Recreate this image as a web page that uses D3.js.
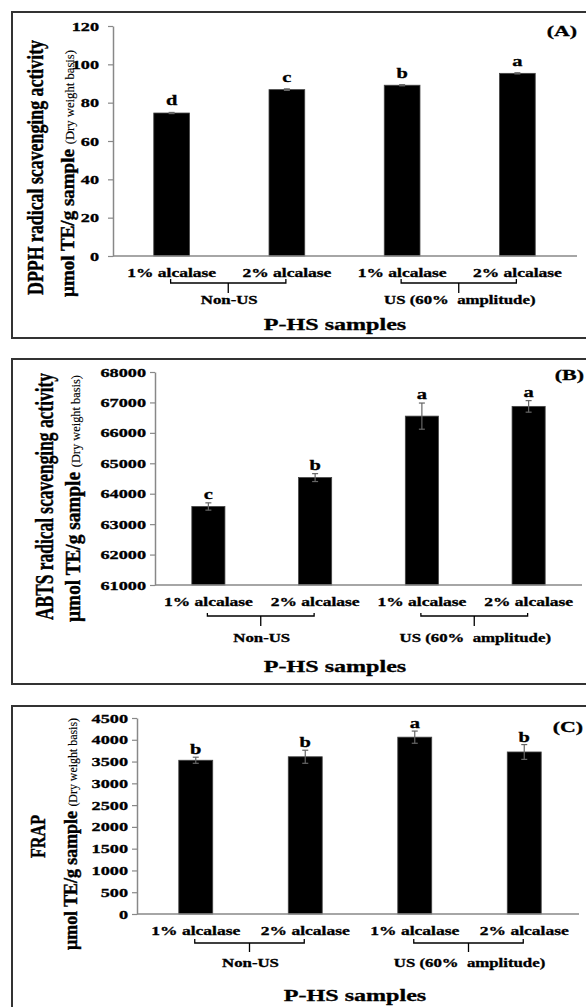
<!DOCTYPE html>
<html>
    <head>
        <script src="https://d3js.org/d3.v7.min.js"></script>
        <style type="text/css">
            html, body {
                margin: 0;
                padding: 0;
                background: #fff;
            }
            svg text {
                font-family: "Liberation Serif", "Times New Roman", serif;
                font-weight: bold;
                fill: #000;
                stroke: #000;
                stroke-width: 0.3px;
                white-space: pre;
            }
        </style>
    </head>
    <body>
        <div id="chart"></div>
        <script>
            // sample names on the x axis
            var categories = ["1% alcalase", "2% alcalase", "1% alcalase", "2% alcalase"];
            var groupLabels = ["Non-US", "US (60%  amplitude)"];
            var groupMembers = [[0, 1], [2, 3]];

            // (A) DPPH
            var dpphValues = [74.6, 86.8, 89.1, 95.3];
            var dpphErrors = [0.3, 0.4, 0.3, 0.3];
            var dpphLetters = ["d", "c", "b", "a"];
            var dpphTicks = [0, 20, 40, 60, 80, 100, 120];

            // (B) ABTS
            var abtsValues = [63580, 64530, 66550, 66870];
            var abtsErrors = [120, 130, 430, 190];
            var abtsLetters = ["c", "b", "a", "a"];
            var abtsTicks = [61000, 62000, 63000, 64000, 65000, 66000, 67000, 68000];

            // (C) FRAP
            var frapValues = [3530, 3610, 4060, 3720];
            var frapErrors = [70, 150, 140, 170];
            var frapLetters = ["b", "b", "a", "b"];
            var frapTicks = [0, 500, 1000, 1500, 2000, 2500, 3000, 3500, 4000, 4500];

            var K = 1.46; // horizontal stretch of the original figure text

            var panels = [
                {tag: "(A)", values: dpphValues, errors: dpphErrors, letters: dpphLetters, ticks: dpphTicks,
                 box: [12, 338], xr: [114, 575], ax: [113, 577], yr: [256, 26],
                 tickPad: 14, letterGap: 7, labelDy: 21, br: [23, 27, 37], groupDy: 48,
                 xTitleX: 335, xTitleDy: 74, tagX: 577, tagY: 36,
                 t1: {text: "DPPH radical scavenging activity", x: 43, cy: 167.5, len: 255, size: 16},
                 t2: {x: 74, cy: 173.5, len: 247, size: 13.5}},
                {tag: "(B)", values: abtsValues, errors: abtsErrors, letters: abtsLetters, ticks: abtsTicks,
                 box: [359, 684], xr: [155, 582], ax: [155, 582], yr: [585, 372],
                 tickPad: 9, letterGap: 4, labelDy: 21, br: [28, 31, 41], groupDy: 57,
                 xTitleX: 335, xTitleDy: 87, tagX: 584, tagY: 380,
                 t1: {text: "ABTS radical scavenging activity", x: 53, cy: 496.5, len: 247, size: 17.5},
                 t2: {x: 80, cy: 498.5, len: 247, size: 14}},
                {tag: "(C)", values: frapValues, errors: frapErrors, letters: frapLetters, ticks: frapTicks,
                 box: [706, 1015], xr: [141, 579], ax: [137, 579], yr: [914, 718],
                 tickPad: 9, letterGap: 3, labelDy: 21, br: [25, 29, 38], groupDy: 53,
                 xTitleX: 355, xTitleDy: 87, tagX: 583, tagY: 732,
                 t1: {text: "FRAP", x: 45, cy: 836.5, len: 43, size: 14},
                 t2: {x: 77, cy: 834, len: 232, size: 13.5}}
            ];

            var svg = d3.select("#chart").append("svg")
                .attr("width", 586)
                .attr("height", 1007);

            function hText(g, x, y, str, size, anchor) {
                return g.append("text")
                    .attr("transform", "translate(" + x + "," + y + ") scale(" + K + ",1)")
                    .attr("text-anchor", anchor || "middle")
                    .style("font-size", size + "px")
                    .text(str);
            }

            panels.forEach(function(p) {
                var g = svg.append("g");

                // frame
                g.append("rect")
                    .attr("x", 12).attr("y", p.box[0])
                    .attr("width", 590).attr("height", p.box[1] - p.box[0])
                    .attr("fill", "none").attr("stroke", "#333").attr("stroke-width", 2);

                var x = d3.scaleBand()
                    .domain(d3.range(categories.length))
                    .range(p.xr)
                    .paddingInner(0.69)
                    .paddingOuter(0.345);

                var y = d3.scaleLinear()
                    .domain([p.ticks[0], p.ticks[p.ticks.length - 1]])
                    .range(p.yr);

                // y axis
                var yAxis = g.append("g")
                    .attr("transform", "translate(" + p.ax[0] + ",0)")
                    .call(d3.axisLeft(y).tickValues(p.ticks).tickFormat(d3.format("d"))
                        .tickSize(5).tickSizeOuter(0));
                yAxis.select(".domain").attr("stroke", "#888").attr("stroke-width", 1.5);
                yAxis.selectAll(".tick line").attr("stroke", "#888").attr("stroke-width", 1.2);
                yAxis.selectAll(".tick text")
                    .attr("x", -p.tickPad / K)
                    .attr("transform", "scale(" + K + ",1)")
                    .attr("font-family", null).attr("font-size", null)
                    .style("font-size", "12.5px");

                // bars
                var bw = x.bandwidth();
                g.selectAll(".bar")
                    .data(p.values)
                    .enter().append("rect")
                    .attr("x", function(d, i) { return x(i); })
                    .attr("y", function(d) { return y(d); })
                    .attr("width", bw)
                    .attr("height", function(d) { return y(p.ticks[0]) - y(d); })
                    .attr("fill", "#000")
                    .attr("stroke", "#444").attr("stroke-width", 0.8);

                // error bars + significance letters
                p.values.forEach(function(v, i) {
                    var cx = x(i) + bw / 2;
                    var eb = g.append("g").attr("stroke", "#666").attr("stroke-width", 1.2);
                    eb.append("line").attr("x1", cx).attr("x2", cx)
                        .attr("y1", y(v - p.errors[i])).attr("y2", y(v + p.errors[i]));
                    eb.append("line").attr("x1", cx - 3).attr("x2", cx + 3)
                        .attr("y1", y(v + p.errors[i])).attr("y2", y(v + p.errors[i]));
                    eb.append("line").attr("x1", cx - 3).attr("x2", cx + 3)
                        .attr("y1", y(v - p.errors[i])).attr("y2", y(v - p.errors[i]));
                    hText(g, cx, y(v + p.errors[i]) - p.letterGap, p.letters[i], 14);
                });

                // x axis line
                var base = y(p.ticks[0]);
                g.append("line")
                    .attr("x1", p.ax[0]).attr("x2", p.ax[1])
                    .attr("y1", base).attr("y2", base)
                    .attr("stroke", "#888").attr("stroke-width", 1.5);

                // sample labels
                categories.forEach(function(c, i) {
                    hText(g, x(i) + bw / 2, base + p.labelDy, c, 12);
                });

                // group brackets
                groupMembers.forEach(function(m, j) {
                    var x0 = x(m[0]) + bw / 2 - 1, x1 = x(m[1]) + bw / 2 - 1;
                    var mid = (x0 + x1) / 2;
                    g.append("path")
                        .attr("d", "M" + x0 + "," + (base + p.br[0]) + "V" + (base + p.br[1]) +
                            "H" + x1 + "V" + (base + p.br[0]) +
                            "M" + mid + "," + (base + p.br[1]) + "V" + (base + p.br[2]))
                        .attr("fill", "none").attr("stroke", "#000").attr("stroke-width", 1.3);
                    hText(g, (x(m[0]) + x(m[1])) / 2 + bw / 2, base + p.groupDy, groupLabels[j], 11.5);
                });

                // x title
                hText(g, p.xTitleX, base + p.xTitleDy, "P-HS samples", 16.5);

                // panel tag
                hText(g, p.tagX, p.tagY, p.tag, 15, "end");

                // y titles
                g.append("text")
                    .attr("transform", "translate(" + p.t1.x + "," + p.t1.cy + ") scale(" + K + ",1) rotate(-90)")
                    .attr("text-anchor", "middle")
                    .attr("textLength", p.t1.len)
                    .attr("lengthAdjust", "spacingAndGlyphs")
                    .style("font-size", p.t1.size + "px")
                    .text(p.t1.text);

                var t2 = g.append("text")
                    .attr("transform", "translate(" + p.t2.x + "," + p.t2.cy + ") scale(" + K + ",1) rotate(-90)")
                    .attr("text-anchor", "middle")
                    .attr("textLength", p.t2.len)
                    .attr("lengthAdjust", "spacingAndGlyphs")
                    .style("font-size", p.t2.size + "px");
                t2.append("tspan").text("\u00b5mol TE/g sample ");
                t2.append("tspan").style("font-size", "9px").style("font-weight", "normal")
                    .style("stroke-width", "0.1px").text("(Dry weight basis)");
            });
        </script>
    </body>
</html>
